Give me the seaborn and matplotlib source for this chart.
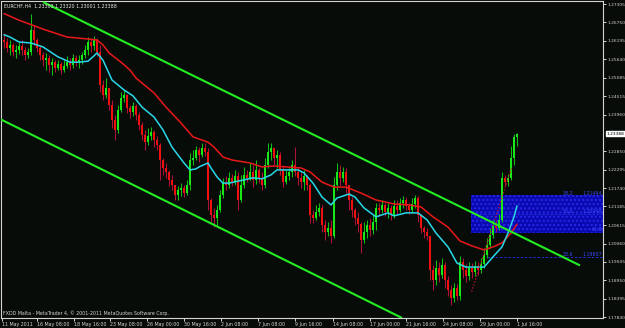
import matplotlib
matplotlib.use("Agg")
import matplotlib.pyplot as plt
import matplotlib.transforms as mtransforms
from matplotlib import font_manager
from matplotlib.patches import Rectangle
import numpy as np
import pandas as pd
import seaborn as sns

# ---------------- data ----------------
title_text = "EURCHF,H4  1.23303 1.23320 1.23001 1.23388"
footer_text = "FXDD Malta - MetaTrader 4, \u00a9 2001-2011 MetaQuotes Software Corp."

first_open = 1.2622
close = [1.2616, 1.2598, 1.2607, 1.2586, 1.2592, 1.2604, 1.2592, 1.2577, 1.2586, 1.2652,
         1.2622, 1.2598, 1.2577, 1.2562, 1.2568, 1.2546, 1.2555, 1.2537, 1.2549, 1.2531,
         1.2543, 1.2555, 1.2546, 1.2568, 1.2555, 1.2562, 1.2577, 1.2592, 1.2616, 1.2604,
         1.2622, 1.2586, 1.2486, 1.2456, 1.2477, 1.2425, 1.2380, 1.2350, 1.2410, 1.2447,
         1.2456, 1.2416, 1.2404, 1.2422, 1.2395, 1.2365, 1.2335, 1.2313, 1.2332, 1.2344,
         1.2320, 1.2304, 1.2259, 1.2235, 1.2223, 1.2198, 1.2183, 1.2153, 1.2168, 1.2174,
         1.2159, 1.2183, 1.2259, 1.2265, 1.2289, 1.2274, 1.2295, 1.2283, 1.2138, 1.2093,
         1.2084, 1.2108, 1.2153, 1.2192, 1.2183, 1.2205, 1.2192, 1.2211, 1.2138, 1.2183,
         1.2214, 1.2205, 1.2223, 1.2198, 1.2229, 1.2205, 1.2183, 1.2244, 1.2283, 1.2295,
         1.2265, 1.2274, 1.2229, 1.2192, 1.2211, 1.2223, 1.2244, 1.2223, 1.2205, 1.2192,
         1.2211, 1.2183, 1.2093, 1.2084, 1.2102, 1.2114, 1.2062, 1.2041, 1.2053, 1.2029,
         1.2183, 1.2223, 1.2205, 1.2223, 1.2183, 1.2138, 1.2108, 1.2084, 1.2065, 1.2017,
         1.2041, 1.2062, 1.2047, 1.2072, 1.2114, 1.2108, 1.2123, 1.2102, 1.2114, 1.2093,
         1.2120, 1.2108, 1.2129, 1.2138, 1.2120, 1.2108, 1.2126, 1.2144, 1.2093, 1.2053,
         1.2041, 1.2029, 1.1926, 1.1896, 1.1932, 1.1911, 1.1941, 1.1896, 1.1866, 1.1842,
         1.1872, 1.1848, 1.1950, 1.1926, 1.1908, 1.1932, 1.1920, 1.1938, 1.1926, 1.1944,
         1.1972, 1.2002, 1.2032, 1.2059, 1.2053, 1.2078, 1.2205, 1.2192, 1.2205, 1.2265,
         1.2330, 1.23388]
high = [1.2643, 1.2628, 1.2622, 1.2613, 1.2607, 1.2616, 1.2622, 1.2601, 1.2598, 1.2701,
        1.2667, 1.2628, 1.2607, 1.2586, 1.2583, 1.2577, 1.2568, 1.2562, 1.2562, 1.2555,
        1.2562, 1.2574, 1.2568, 1.2580, 1.2577, 1.2577, 1.2586, 1.2607, 1.2631, 1.2628,
        1.2634, 1.2628, 1.2607, 1.2501, 1.2507, 1.2471, 1.2441, 1.2395, 1.2425, 1.2465,
        1.2471, 1.2459, 1.2425, 1.2434, 1.2428, 1.2404, 1.2374, 1.2350, 1.2356, 1.2359,
        1.2350, 1.2332, 1.2310, 1.2265, 1.2250, 1.2229, 1.2214, 1.2183, 1.2180, 1.2189,
        1.2183, 1.2198, 1.2280, 1.2289, 1.2301, 1.2298, 1.2310, 1.2310, 1.2295, 1.2144,
        1.2114, 1.2123, 1.2168, 1.2205, 1.2211, 1.2223, 1.2217, 1.2229, 1.2223, 1.2214,
        1.2238, 1.2229, 1.2250, 1.2244, 1.2259, 1.2235, 1.2223, 1.2265, 1.2310, 1.2310,
        1.2295, 1.2289, 1.2283, 1.2244, 1.2229, 1.2235, 1.2259, 1.2298, 1.2235, 1.2223,
        1.2229, 1.2214, 1.2189, 1.2108, 1.2123, 1.2129, 1.2123, 1.2078, 1.2072, 1.2078,
        1.2208, 1.2250, 1.2244, 1.2238, 1.2235, 1.2183, 1.2147, 1.2114, 1.2102, 1.2072,
        1.2072, 1.2078, 1.2084, 1.2093, 1.2129, 1.2129, 1.2138, 1.2129, 1.2129, 1.2123,
        1.2138, 1.2138, 1.2144, 1.2150, 1.2147, 1.2129, 1.2144, 1.2153, 1.2150, 1.2096,
        1.2059, 1.2053, 1.2017, 1.1941, 1.1957, 1.1950, 1.1963, 1.1950, 1.1908, 1.1881,
        1.1887, 1.1884, 1.1969, 1.1963, 1.1944, 1.1950, 1.1947, 1.1954, 1.1950, 1.1963,
        1.1993, 1.2023, 1.2053, 1.2078, 1.2078, 1.2096, 1.2223, 1.2214, 1.2217, 1.2301,
        1.2338, 1.23420]
low = [1.2598, 1.2586, 1.2577, 1.2574, 1.2568, 1.2580, 1.2577, 1.2562, 1.2568, 1.2577,
       1.2607, 1.2586, 1.2562, 1.2543, 1.2531, 1.2525, 1.2516, 1.2525, 1.2531, 1.2519,
       1.2525, 1.2537, 1.2531, 1.2537, 1.2543, 1.2537, 1.2549, 1.2568, 1.2577, 1.2586,
       1.2592, 1.2574, 1.2465, 1.2441, 1.2447, 1.2410, 1.2356, 1.2320, 1.2341, 1.2404,
       1.2434, 1.2401, 1.2386, 1.2392, 1.2380, 1.2350, 1.2320, 1.2289, 1.2304, 1.2320,
       1.2298, 1.2289, 1.2198, 1.2214, 1.2205, 1.2180, 1.2168, 1.2138, 1.2138, 1.2150,
       1.2147, 1.2153, 1.2168, 1.2244, 1.2259, 1.2253, 1.2268, 1.2271, 1.2108, 1.2072,
       1.2056, 1.2062, 1.2102, 1.2144, 1.2168, 1.2174, 1.2180, 1.2183, 1.2108, 1.2132,
       1.2174, 1.2192, 1.2198, 1.2177, 1.2186, 1.2189, 1.2168, 1.2174, 1.2235, 1.2259,
       1.2244, 1.2235, 1.2214, 1.2177, 1.2186, 1.2198, 1.2208, 1.2211, 1.2183, 1.2174,
       1.2168, 1.2168, 1.2068, 1.2068, 1.2078, 1.2090, 1.2041, 1.2017, 1.2029, 1.2008,
       1.2023, 1.2168, 1.2180, 1.2192, 1.2159, 1.2108, 1.2087, 1.2062, 1.2041, 1.1978,
       1.2008, 1.2023, 1.2029, 1.2035, 1.2047, 1.2093, 1.2099, 1.2090, 1.2084, 1.2078,
       1.2084, 1.2096, 1.2102, 1.2114, 1.2108, 1.2096, 1.2099, 1.2114, 1.2072, 1.2038,
       1.2023, 1.2017, 1.1896, 1.1866, 1.1881, 1.1890, 1.1902, 1.1872, 1.1848, 1.1820,
       1.1830, 1.1836, 1.1836, 1.1902, 1.1890, 1.1896, 1.1902, 1.1908, 1.1911, 1.1917,
       1.1932, 1.1963, 1.1993, 1.2023, 1.2041, 1.2047, 1.2072, 1.2180, 1.2180, 1.2198,
       1.2244, 1.23001]

# moving averages (fast = cyan, slow = red), sampled along the bar axis
ma_fast_bar = [0, 2, 5, 9, 13, 18, 22, 25, 28, 30, 31, 33, 36, 40, 43, 46, 50, 53, 56, 60,
               62, 64, 65, 68, 69, 71, 73, 75, 80, 83, 86, 89, 91, 94, 98, 100, 103, 106,
               109, 111, 115, 117, 120, 124, 128, 130, 134, 138, 141, 144, 148, 151, 154,
               160, 163, 166, 168, 170, 171]
ma_fast = [1.2638, 1.2631, 1.2616, 1.2613, 1.2601, 1.2571, 1.2555, 1.2555, 1.2558, 1.2574,
           1.2583, 1.2561, 1.2501, 1.2471, 1.2453, 1.2419, 1.2389, 1.2350, 1.2298, 1.2250,
           1.2229, 1.2232, 1.2238, 1.2250, 1.2235, 1.2208, 1.2189, 1.2189, 1.2199, 1.2205,
           1.2202, 1.2214, 1.2229, 1.2229, 1.2229, 1.2220, 1.2189, 1.2147, 1.2123, 1.2144,
           1.2156, 1.2147, 1.2114, 1.2087, 1.2099, 1.2090, 1.2099, 1.2099, 1.2078, 1.2038,
           1.1996, 1.1947, 1.1935, 1.1935, 1.1966, 1.1996, 1.2038, 1.2087, 1.2120]
ma_slow_bar = [0, 5, 13, 21, 28, 31, 33, 35, 39, 42, 44, 50, 54, 59, 63, 68, 70, 73, 76, 82,
               86, 90, 94, 99, 102, 106, 110, 114, 119, 124, 130, 135, 139, 143, 148, 152,
               156, 160, 163, 166, 169, 171]
ma_slow = [1.2702, 1.2682, 1.2655, 1.2631, 1.2625, 1.2622, 1.2607, 1.2583, 1.2555, 1.2531,
           1.2507, 1.2462, 1.2419, 1.2371, 1.2329, 1.2313, 1.2298, 1.2268, 1.2259, 1.2250,
           1.2238, 1.2241, 1.2238, 1.2235, 1.2223, 1.2192, 1.2177, 1.2177, 1.2159, 1.2138,
           1.2126, 1.2123, 1.2117, 1.2087, 1.2056, 1.2014, 1.1999, 1.1987, 1.1996, 1.2008,
           1.2038, 1.2065]

# channel trend lines (bar, price) end points
upper_channel_bar = [13.0, 192.0]
upper_channel_price = [1.2737, 1.1940]
lower_channel_bar = [-1.33, 132.7]
lower_channel_price = [1.2383, 1.1781]

# fibonacci line (dotted red) and zone
fib_line_bar = [155.9, 169.3]
fib_line_price = [1.1861, 1.2239]
zone_bar_start = 155.7
zone_top, zone_bottom = 1.2153, 1.2038
fib_levels = ["38.2", "50.0", "61.8", "23.6"]
fib_prices = [1.21494, 1.20948, 1.20410, 1.19657]

price_ticks = [1.27305, 1.26750, 1.26195, 1.25640, 1.25085, 1.24515, 1.23960, 1.22850,
               1.22295, 1.21740, 1.21185, 1.20615, 1.20060, 1.19505, 1.18950, 1.18395,
               1.17840]
last_price = 1.23388
date_labels = ["11 May 2011", "16 May 08:00", "18 May 16:00", "23 May 08:00",
               "26 May 00:00", "30 May 16:00", "2 Jun 08:00", "7 Jun 08:00",
               "9 Jun 16:00", "14 Jun 08:00", "17 Jun 00:00", "21 Jun 16:00",
               "24 Jun 08:00", "29 Jun 00:00", "1 Jul 16:00"]
date_bars = [-0.77, 11.1, 23.3, 35.3, 47.6, 60.1, 72.3, 84.6, 97.0, 109.8, 122.0, 134.0,
             146.4, 158.7, 170.9]

# ---------------- style ----------------
BG = "#080c08"
FG = "#d4d4d4"
sns.set_theme(style="dark", rc={"axes.facecolor": BG, "figure.facecolor": BG})
names = {f.name for f in font_manager.fontManager.ttflist}
if "Liberation Sans Narrow" in names:
    plt.rcParams["font.family"] = ["Liberation Sans Narrow", "DejaVu Sans"]
    FS = 4.2
else:
    plt.rcParams["font.family"] = ["DejaVu Sans"]
    FS = 3.4
FS_Y = FS * 0.92

fig = plt.figure(figsize=(6.25, 3.28), dpi=100)
ax = fig.add_axes([1 / 625, 10 / 328, 602 / 625, 317 / 328])
ax.set_facecolor(BG)

df = pd.DataFrame({"close": close, "high": high, "low": low})
df["bar"] = np.arange(len(df))
df["open"] = [first_open] + close[:-1]
df["up"] = df["close"] >= df["open"]

BULL, BEAR = "#18e818", "#f01010"
BULL_W, BEAR_W = "#10c010", "#b0103a"

# rectangle zone (background)
ax.add_patch(Rectangle((zone_bar_start, zone_bottom), 210 - zone_bar_start,
                       zone_top - zone_bottom, facecolor="#0a0ab0", edgecolor="#2828e8",
                       hatch="....", lw=0, zorder=0.5))

# wicks
for up, wc in ((True, BULL_W), (False, BEAR_W)):
    d = df[df["up"] == up]
    ax.vlines(d["bar"], d["low"], d["high"], color=wc, lw=0.75, zorder=2)
# bodies
body_h = (df["close"] - df["open"]).abs().clip(lower=0.00012)
ax.bar(df["bar"], body_h, bottom=np.minimum(df["open"], df["close"]), width=0.72,
       color=np.where(df["up"], BULL, BEAR), linewidth=0, zorder=3)

# moving averages
sns.lineplot(x=ma_slow_bar, y=ma_slow, ax=ax, color="#e81818", lw=1.1, zorder=4)
sns.lineplot(x=ma_fast_bar, y=ma_fast, ax=ax, color="#28d8e8", lw=1.1, zorder=4)

# fib dotted line
ax.plot(fib_line_bar, fib_line_price, color="#d01030", lw=0.9, ls=(0, (1, 1.5)), zorder=4)

# fib level dashed lines + labels
LBL = "#3848ff"
for lvl, pr, xs in zip(fib_levels, fib_prices, [zone_bar_start, zone_bar_start,
                                               zone_bar_start, 160.9]):
    if lvl in ("50.0", "23.6"):
        ax.plot([xs, 200], [pr, pr], color="#2030f0", lw=0.6, ls=(0, (3, 2)), zorder=1)
    ax.text(186.3 if lvl != "61.8" else 196.0, pr, lvl, color=LBL, fontsize=FS,
            ha="left", va="bottom", zorder=6)
    if lvl != "61.8":
        ax.text(199.4, pr, f"{pr:.5f}", color=LBL, fontsize=FS, ha="right",
                va="bottom", zorder=6)

# channel lines
ax.plot(upper_channel_bar, upper_channel_price, color="#22ee22", lw=1.5,
        solid_capstyle="butt", zorder=5)
ax.plot(lower_channel_bar, lower_channel_price, color="#22ee22", lw=1.5,
        solid_capstyle="butt", zorder=5)

# axes
ax.set_xlim(-1, 199.67)
ax.set_ylim(1.17810, 1.27400)
for s in ax.spines.values():
    s.set_color(FG)
    s.set_linewidth(0.8)
    s.set_visible(True)
ax.yaxis.tick_right()
ax.set_yticks(price_ticks)
ax.set_yticklabels([f"{p:.5f}" for p in price_ticks])
ax.set_xticks(date_bars)
ax.set_xticklabels(date_labels, ha="left")
ax.tick_params(axis="y", colors=FG, labelsize=FS_Y, length=2.2, width=0.7, pad=0.8,
               direction="out", right=True, left=False)
ax.tick_params(axis="x", colors=FG, labelsize=FS, length=2.5, width=0.7, pad=0.5,
               direction="out", bottom=True)
ax.grid(False)
ax.set_xlabel("")
ax.set_ylabel("")

# last price box
trans = mtransforms.blended_transform_factory(ax.transAxes, ax.transData)
ax.text(1.0055, last_price, f"{last_price:.5f}", transform=trans, fontsize=FS_Y,
        color="black", va="center", ha="left", clip_on=False,
        bbox=dict(boxstyle="square,pad=0.12", facecolor="white", edgecolor="white"))

# texts
fig.text(4 / 625, 1 - 6 / 328, title_text, color="#e8e8e8", fontsize=FS,
         va="center", ha="left")
fig.text(3 / 625, 1 - 313 / 328, footer_text, color=FG, fontsize=FS, va="center",
         ha="left")

fig.savefig("out.png", dpi=100, facecolor=BG)
